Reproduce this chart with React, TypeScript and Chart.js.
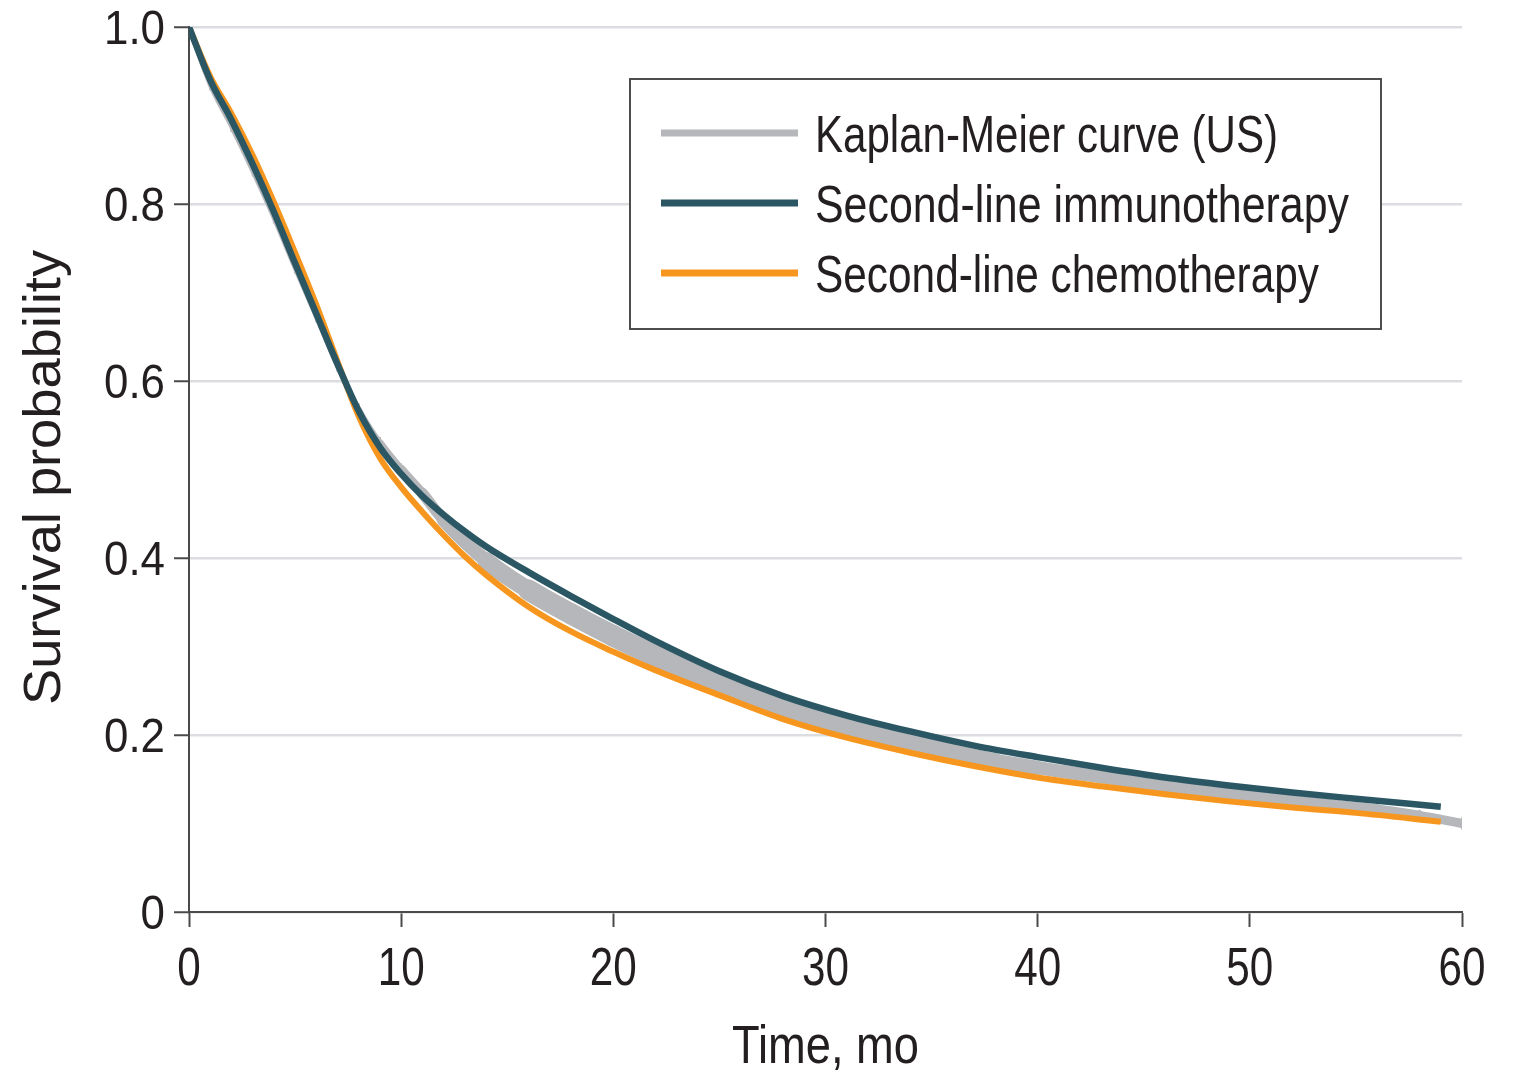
import React, { useEffect, useRef } from "react";
import { Chart, registerables } from "chart.js";

Chart.register(...registerables);

// ---- Data ----
const kmTimes = [0, 1, 2, 3, 4, 5, 6, 7, 8, 9, 10, 11, 12, 14, 16, 18, 20, 22, 24, 26, 28, 30, 32, 34, 36, 38, 40, 42, 44, 46, 48, 50, 52, 54, 56, 58, 60];
const kmSurvival = [1.0, 0.935, 0.888, 0.838, 0.785, 0.728, 0.673, 0.617, 0.568, 0.53, 0.5, 0.473, 0.443, 0.397, 0.364, 0.337, 0.312, 0.289, 0.268, 0.249, 0.231, 0.216, 0.203, 0.192, 0.181, 0.171, 0.163, 0.156, 0.149, 0.142, 0.137, 0.131, 0.126, 0.121, 0.116, 0.109, 0.1];

const modelTimes = [0, 1, 2, 3, 4, 5, 6, 7, 8, 9, 10, 11, 12, 13, 14, 16, 18, 20, 22, 25, 28, 31, 34, 37, 40, 43, 46, 49, 52, 55, 59];
const immunoSurvival = [1.0, 0.94, 0.895, 0.845, 0.791, 0.733, 0.676, 0.619, 0.566, 0.525, 0.495, 0.47, 0.449, 0.43, 0.413, 0.384, 0.357, 0.331, 0.306, 0.272, 0.244, 0.222, 0.204, 0.188, 0.175, 0.163, 0.152, 0.143, 0.135, 0.128, 0.119];
const chemoSurvival = [1.0, 0.944, 0.902, 0.855, 0.802, 0.745, 0.686, 0.622, 0.56, 0.513, 0.48, 0.452, 0.426, 0.402, 0.381, 0.345, 0.317, 0.294, 0.273, 0.245, 0.218, 0.197, 0.18, 0.165, 0.152, 0.142, 0.133, 0.125, 0.118, 0.112, 0.102];

const seriesLabels = ["Kaplan-Meier curve (US)", "Second-line immunotherapy", "Second-line chemotherapy"];
const seriesColors = ["#b5b7ba", "#2b5764", "#f6961e"];

const xTickValues = [0, 10, 20, 30, 40, 50, 60];
const yTickValues = [0, 0.2, 0.4, 0.6, 0.8, 1.0];
const xTitle = "Time, mo";
const yTitle = "Survival probability";

// ---- Styling ----
const FONT = "'Liberation Sans', Arial, sans-serif";
const TEXT = "#231f20";
const AXIS = "#4a4a4a";
// width of the grey Kaplan-Meier band (it carries dense censoring marks) along time
const bandWidthStops: [number, number][] = [[0, 5], [8, 5], [17, 21], [24, 22], [32, 17], [42, 13], [52, 11], [60, 9]];

const toPoints = (xs: number[], ys: number[]) => xs.map((x, i) => ({ x, y: ys[i] }));

const bandWidthAt = (t: number) => {
  for (let i = 1; i < bandWidthStops.length; i++) {
    const [t0, w0] = bandWidthStops[i - 1];
    const [t1, w1] = bandWidthStops[i];
    if (t <= t1) return w0 + ((t - t0) / (t1 - t0)) * (w1 - w0);
  }
  return bandWidthStops[bandWidthStops.length - 1][1];
};

function drawFitted(
  ctx: CanvasRenderingContext2D,
  text: string,
  x: number,
  y: number,
  size: number,
  sx: number,
  align: CanvasTextAlign,
  rotate = false
) {
  ctx.save();
  ctx.translate(x, y);
  if (rotate) ctx.rotate(-Math.PI / 2);
  ctx.scale(sx, 1);
  ctx.font = `${size}px ${FONT}`;
  ctx.textAlign = align;
  ctx.textBaseline = "alphabetic";
  ctx.fillStyle = TEXT;
  ctx.fillText(text, 0, 0);
  ctx.restore();
}

function scaleFor(ctx: CanvasRenderingContext2D, text: string, size: number, target: number) {
  ctx.save();
  ctx.font = `${size}px ${FONT}`;
  const w = ctx.measureText(text).width;
  ctx.restore();
  return w > 0 ? target / w : 1;
}

const textPlugin = {
  id: "condensedText",
  afterDraw(chart: any) {
    const ctx = chart.ctx as CanvasRenderingContext2D;
    const xs = chart.scales.x;
    const ys = chart.scales.y;
    const area = chart.chartArea;

    // tick labels
    const xSize = 53;
    const xSx = scaleFor(ctx, "10", xSize, 47);
    xs.ticks.forEach((t: any) => {
      drawFitted(ctx, String(t.value), xs.getPixelForValue(t.value), area.bottom + 73, xSize, xSx, "center");
    });
    const ySize = 48;
    const ySx = scaleFor(ctx, "0.8", ySize, 61);
    ys.ticks.forEach((t: any) => {
      const label = t.value === 0 ? "0" : t.value.toFixed(1);
      drawFitted(ctx, label, area.left - 24, ys.getPixelForValue(t.value) + 17, ySize, ySx, "right");
    });

    // axis titles
    const cx = (area.left + area.right) / 2;
    drawFitted(ctx, xTitle, cx, area.bottom + 151, 53, scaleFor(ctx, xTitle, 53, 187), "center");
    const cy = (area.top + area.bottom) / 2 + 8;
    drawFitted(ctx, yTitle, 60, cy, 52, scaleFor(ctx, yTitle, 52, 455), "center", true);

    // legend box
    const left = 630, top = 79, width = 751, height = 250;
    ctx.save();
    ctx.fillStyle = "#ffffff";
    ctx.fillRect(left, top, width, height);
    ctx.strokeStyle = "#4d4d4d";
    ctx.lineWidth = 2;
    ctx.strokeRect(left, top, width, height);
    ctx.restore();
    const swatchY = [133, 203, 273];
    const baseY = [152, 222, 292];
    const targets = [463, 534, 504];
    seriesLabels.forEach((label, i) => {
      ctx.save();
      ctx.strokeStyle = seriesColors[i];
      ctx.lineWidth = 7;
      ctx.beginPath();
      ctx.moveTo(661, swatchY[i]);
      ctx.lineTo(798, swatchY[i]);
      ctx.stroke();
      ctx.restore();
      drawFitted(ctx, label, 815, baseY[i], 52, scaleFor(ctx, label, 52, targets[i]), "left");
    });
  },
};

export default function App() {
  const ref = useRef<HTMLCanvasElement>(null);

  useEffect(() => {
    if (!ref.current) return;
    const chart = new Chart(ref.current, {
      type: "line",
      data: {
        datasets: [
          {
            label: seriesLabels[1],
            data: toPoints(modelTimes, immunoSurvival),
            borderColor: seriesColors[1],
            borderWidth: 6.5,
            pointRadius: 0,
            cubicInterpolationMode: "monotone",
            fill: false,
            order: 0,
          },
          {
            label: seriesLabels[2],
            data: toPoints(modelTimes, chemoSurvival),
            borderColor: seriesColors[2],
            borderWidth: 6,
            pointRadius: 0,
            cubicInterpolationMode: "monotone",
            fill: false,
            order: 1,
          },
          {
            label: seriesLabels[0],
            data: toPoints(kmTimes, kmSurvival),
            borderColor: seriesColors[0],
            borderWidth: 5,
            borderCapStyle: "round",
            borderJoinStyle: "round",
            segment: {
              borderWidth: (c: any) => bandWidthAt((c.p0.parsed.x + c.p1.parsed.x) / 2),
            },
            pointStyle: "line",
            pointRotation: 90,
            pointRadius: 6,
            pointBorderWidth: 2,
            pointBorderColor: seriesColors[0],
            cubicInterpolationMode: "monotone",
            fill: false,
            order: 2,
          },
        ],
      },
      options: {
        animation: false,
        responsive: false,
        devicePixelRatio: 1,
        layout: { padding: { top: 27, right: 52, left: 0, bottom: 0 } },
        plugins: { legend: { display: false }, tooltip: { enabled: false } },
        scales: {
          x: {
            type: "linear",
            min: 0,
            max: 60,
            afterBuildTicks: (s: any) => {
              s.ticks = xTickValues.map((v) => ({ value: v }));
            },
            afterFit: (s: any) => {
              s.height = 160;
              s.paddingLeft = 0;
              s.paddingRight = 0;
            },
            ticks: { display: false },
            grid: { drawOnChartArea: false, drawTicks: true, tickLength: 15, tickColor: AXIS, tickWidth: 2 },
            border: { display: true, color: AXIS, width: 2 },
            title: { display: false },
          },
          y: {
            type: "linear",
            min: 0,
            max: 1,
            afterBuildTicks: (s: any) => {
              s.ticks = yTickValues.map((v) => ({ value: v }));
            },
            afterFit: (s: any) => {
              s.width = 189;
              s.paddingTop = 0;
              s.paddingBottom = 0;
            },
            ticks: { display: false },
            grid: { color: "#dcdde0", lineWidth: 2.5, drawTicks: true, tickLength: 15, tickColor: AXIS, tickWidth: 2 },
            border: { display: true, color: AXIS, width: 2 },
            title: { display: false },
          },
        },
      },
      plugins: [textPlugin],
    });
    return () => chart.destroy();
  }, []);

  return (
    <div style={{ position: "absolute", left: 0, top: 0, width: 1514, height: 1072, background: "#fff" }}>
      <canvas ref={ref} width={1514} height={1072} style={{ display: "block" }} />
    </div>
  );
}
